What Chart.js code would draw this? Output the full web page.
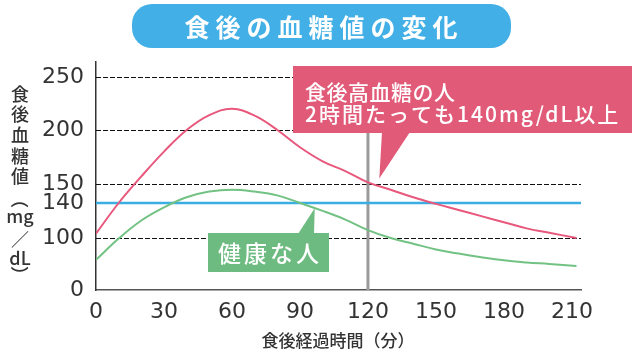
<!DOCTYPE html>
<html>
<head>
<meta charset="utf-8">
<script src="https://cdn.jsdelivr.net/npm/chart.js@4.4.1/dist/chart.umd.min.js"></script>
<style>
  html, body { margin: 0; padding: 0; background: #fff; }
</style>
</head>
<body>
<canvas id="myChart" width="640" height="360"></canvas>
<script>
// data (minutes after meal, mg/dL)
const minutes = [0, 10, 20, 30, 40, 50, 60, 70, 80, 90, 100, 110, 120, 130, 140, 150, 160, 170, 180, 190, 200, 212];
const highGlucose = [105, 140, 157, 180, 200, 214, 220, 213.5, 200, 184, 171, 162, 151.5, 147, 143, 139, 132, 125, 118, 111, 106, 100];
const healthy = [58, 99, 120, 135, 143, 146, 147, 146, 144, 140, 131, 121, 109, 100, 89, 78, 70, 63, 57, 53, 50, 46];
const thresholdValue = 140;
const markerMinute = 120;
const xTicks = [0, 30, 60, 90, 120, 150, 180, 210];
const yTicks = [0, 100, 140, 150, 200, 250];
const gridValues = [100, 150, 200, 250];

const titleText = '食後の血糖値の変化';
const highLabel = ['食後高血糖の人', '2時間たっても140mg/dL以上'];
const healthyLabel = '健康な人';
const xTitle = '食後経過時間（分）';
const yTitle = ['食', '後', '血', '糖', '値', '（', 'mg', '／', 'dL', '）'];

const JP = '"Noto Sans CJK JP", "Noto Sans", sans-serif';
const NUM = '"DejaVu Sans", "Noto Sans", sans-serif';

// the y axis in the picture is not linear: it is stretched in pieces
const yBreakValues = [0, 100, 140, 150, 200, 250, 265];
const yBreakStops = [0, 52, 87, 106, 160, 213, 228].map(d => d / 228);

function valueToDecimal(v) {
    let i = 1;
    while (i < yBreakValues.length - 1 && v > yBreakValues[i]) i++;
    const v0 = yBreakValues[i - 1], v1 = yBreakValues[i];
    const d0 = yBreakStops[i - 1], d1 = yBreakStops[i];
    return d0 + (v - v0) / (v1 - v0) * (d1 - d0);
}
function decimalToValue(d) {
    let i = 1;
    while (i < yBreakStops.length - 1 && d > yBreakStops[i]) i++;
    const v0 = yBreakValues[i - 1], v1 = yBreakValues[i];
    const d0 = yBreakStops[i - 1], d1 = yBreakStops[i];
    return v0 + (d - d0) / (d1 - d0) * (v1 - v0);
}

class PiecewiseScale extends Chart.LinearScale {
    getPixelForValue(value) {
        if (value === null || value === undefined || isNaN(value)) return NaN;
        return this.getPixelForDecimal(valueToDecimal(value));
    }
    getValueForPixel(pixel) {
        return decimalToValue(this.getDecimalForPixel(pixel));
    }
}
PiecewiseScale.id = 'piecewise';
PiecewiseScale.defaults = Chart.LinearScale.defaults;
Chart.register(PiecewiseScale);

function roundRect(ctx, x, y, w, h, r) {
    ctx.beginPath();
    ctx.moveTo(x + r, y);
    ctx.lineTo(x + w - r, y);
    ctx.arcTo(x + w, y, x + w, y + r, r);
    ctx.lineTo(x + w, y + h - r);
    ctx.arcTo(x + w, y + h, x + w - r, y + h, r);
    ctx.lineTo(x + r, y + h);
    ctx.arcTo(x, y + h, x, y + h - r, r);
    ctx.lineTo(x, y + r);
    ctx.arcTo(x, y, x + r, y, r);
    ctx.closePath();
}

const decor = {
    id: 'decor',
    beforeDatasetsDraw(chart) {
        const {ctx, chartArea: a, scales: {x, y}} = chart;
        ctx.save();
        // dashed guide lines
        ctx.strokeStyle = '#111';
        ctx.lineWidth = 1;
        ctx.setLineDash([5, 2]);
        gridValues.forEach(v => {
            const py = Math.round(y.getPixelForValue(v)) + 0.5;
            ctx.beginPath();
            ctx.moveTo(a.left, py);
            ctx.lineTo(a.right, py);
            ctx.stroke();
        });
        ctx.setLineDash([]);
        // 2 hours marker
        const mx = x.getPixelForValue(markerMinute);
        ctx.strokeStyle = '#9b9b9b';
        ctx.lineWidth = 3;
        ctx.beginPath();
        ctx.moveTo(mx, 133);
        ctx.lineTo(mx, a.bottom);
        ctx.stroke();
        ctx.restore();
    },
    afterDraw(chart) {
        const {ctx, scales: {x, y}} = chart;
        ctx.save();

        // title pill
        ctx.fillStyle = '#42b0e6';
        roundRect(ctx, 132, 4, 379, 44, 20);
        ctx.fill();
        ctx.fillStyle = '#fff';
        ctx.font = 'bold 25px ' + JP;
        ctx.textAlign = 'center';
        ctx.textBaseline = 'middle';
        ctx.letterSpacing = '6px';
        ctx.fillText(titleText, 324, 27);
        ctx.letterSpacing = '0px';

        // high glucose callout
        ctx.fillStyle = '#e15b79';
        ctx.fillRect(293, 66, 339, 67);
        ctx.beginPath();
        ctx.moveTo(382, 132);
        ctx.lineTo(410, 132);
        ctx.lineTo(x.getPixelForValue(125), y.getPixelForValue(155));
        ctx.closePath();
        ctx.fill();
        ctx.fillStyle = '#fff';
        ctx.textAlign = 'left';
        ctx.font = '500 21px ' + JP;
        ctx.letterSpacing = '0.5px';
        ctx.fillText(highLabel[0], 305, 92);
        ctx.letterSpacing = '2px';
        ctx.fillText(highLabel[1], 305, 114);
        ctx.letterSpacing = '0px';

        // healthy callout
        ctx.fillStyle = '#6dbb80';
        ctx.fillRect(208, 233, 121, 39);
        ctx.beginPath();
        ctx.moveTo(298, 234);
        ctx.lineTo(314, 234);
        ctx.lineTo(x.getPixelForValue(96.5), y.getPixelForValue(134));
        ctx.closePath();
        ctx.fill();
        ctx.fillStyle = '#fff';
        ctx.textAlign = 'center';
        ctx.font = '500 23px ' + JP;
        ctx.letterSpacing = '3px';
        ctx.fillText(healthyLabel, 270, 253);
        ctx.letterSpacing = '0px';

        // axis titles
        ctx.fillStyle = '#333';
        ctx.font = '500 17px ' + JP;
        ctx.fillText(xTitle, 338, 341);

        const yPos = [94, 114, 135, 156, 176, 199, 216, 239, 258, 275];
        yTitle.forEach((t, i) => {
            if (t === '（' || t === '）') {
                ctx.save();
                ctx.translate(20, yPos[i]);
                ctx.rotate(Math.PI / 2);
                ctx.font = '500 18px ' + JP;
                ctx.fillText(t, 0, 0);
                ctx.restore();
                return;
            }
            ctx.font = '500 18px ' + JP;
            ctx.fillText(t, 20, yPos[i]);
        });
        ctx.restore();
    }
};

new Chart(document.getElementById('myChart').getContext('2d'), {
    type: 'line',
    data: {
        datasets: [
            {
                label: highLabel[0],
                data: minutes.map((m, i) => ({x: m, y: highGlucose[i]})),
                borderColor: '#e8587c',
                borderWidth: 2,
                tension: 0.4
            },
            {
                label: healthyLabel,
                data: minutes.map((m, i) => ({x: m, y: healthy[i]})),
                borderColor: '#72c283',
                borderWidth: 2,
                tension: 0.4
            },
            {
                label: '140',
                data: [{x: 0, y: thresholdValue}, {x: 214, y: thresholdValue}],
                borderColor: '#3aaee3',
                borderWidth: 2.5
            }
        ]
    },
    options: {
        responsive: false,
        animation: false,
        layout: {padding: {top: 62, right: 59, left: 0, bottom: 0}},
        elements: {point: {radius: 0}},
        plugins: {legend: {display: false}, tooltip: {enabled: false}},
        scales: {
            x: {
                type: 'linear',
                min: 0,
                max: 214,
                grid: {display: false, drawTicks: false},
                border: {color: '#555', width: 1.5},
                ticks: {color: '#333', font: {size: 22, family: NUM}, padding: 9, autoSkip: false, maxRotation: 0},
                afterBuildTicks: s => { s.ticks = xTicks.map(v => ({value: v})); },
                afterFit: s => { s.height = 70; }
            },
            y: {
                type: 'piecewise',
                min: 0,
                max: 265,
                grid: {display: false, drawTicks: false},
                border: {color: '#333', width: 1.5},
                ticks: {color: '#333', font: {size: 22, family: NUM}, padding: 12, autoSkip: false},
                afterBuildTicks: s => { s.ticks = yTicks.map(v => ({value: v})); },
                afterFit: s => { s.width = 96; }
            }
        }
    },
    plugins: [decor]
});
</script>
</body>
</html>
